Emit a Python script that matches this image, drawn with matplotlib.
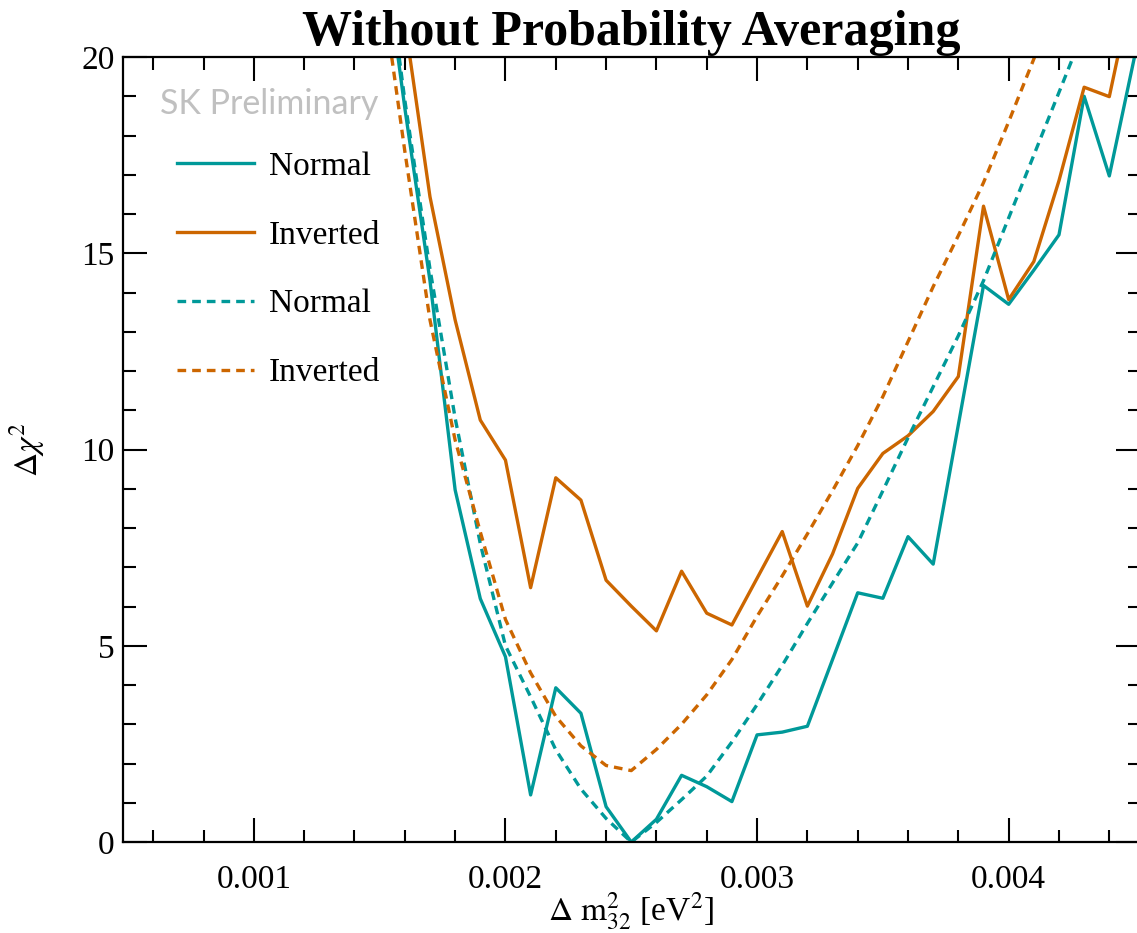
import matplotlib
matplotlib.use("Agg")
import matplotlib.pyplot as plt

plt.rcParams["font.family"] = ["Liberation Serif", "DejaVu Serif"]
plt.rcParams["mathtext.fontset"] = "stix"

# Delta m^2_32 grid [eV^2]
dm2 = [0.0015, 0.0016, 0.0017, 0.0018, 0.0019, 0.0020, 0.0021, 0.0022,
       0.0023, 0.0024, 0.0025, 0.0026, 0.0027, 0.0028, 0.0029, 0.0030,
       0.0031, 0.0032, 0.0033, 0.0034, 0.0035, 0.0036, 0.0037, 0.0038,
       0.0039, 0.0040, 0.0041, 0.0042, 0.0043, 0.0044, 0.0045]

# delta chi^2, solid = data fit, dashed = expectation
normal_fit = [23.5, 18.7, 14.3, 8.97, 6.2, 4.72, 1.2, 3.93, 3.28, 0.9, 0.0,
              0.58, 1.7, 1.41, 1.03, 2.73, 2.8, 2.95, 4.65, 6.35, 6.21, 7.78,
              7.08, 10.63, 14.18, 13.7, 14.57, 15.47, 19.0, 16.97, 20.0]
inverted_fit = [26.0, 20.9, 16.44, 13.3, 10.75, 9.73, 6.48, 9.28, 8.71, 6.67,
                6.01, 5.38, 6.9, 5.83, 5.53, 6.72, 7.91, 6.01, 7.34, 9.01, 9.9,
                10.35, 10.97, 11.86, 16.2, 13.82, 14.79, 16.85, 19.23, 18.99, 22.0]
normal_exp = [23.8, 18.9, 14.6, 10.8, 7.6, 5.0, 3.7, 2.35, 1.35, 0.6, 0.0,
              0.5, 1.08, 1.68, 2.55, 3.5, 4.5, 5.57, 6.6, 7.62, 8.95, 10.3,
              11.6, 12.9, 14.3, 15.9, 17.5, 19.1, 20.7, 22.4, 24.1]
inverted_exp = [22.2, 17.6, 13.3, 10.24, 7.9, 5.67, 4.31, 3.2, 2.45, 1.95,
                1.82, 2.36, 3.0, 3.75, 4.65, 5.75, 6.78, 7.85, 8.95, 10.1,
                11.35, 12.75, 14.15, 15.45, 16.8, 18.35, 19.95, 21.6, 23.3, 25.0, 26.7]

teal = "#009999"
orange = "#cc6600"

fig = plt.figure(figsize=(11.37, 9.33), dpi=100)
ax = fig.add_axes([0.1082, 0.0975, 0.894, 0.8414])

lw = 2.4
dash = (2.6, 1.8)
ax.plot(dm2, normal_fit, color=teal, lw=lw, label="Normal")
ax.plot(dm2, inverted_fit, color=orange, lw=lw, label="Inverted")
ax.plot(dm2, normal_exp, color=teal, lw=lw, dashes=dash, label="Normal")
ax.plot(dm2, inverted_exp, color=orange, lw=lw, dashes=dash, label="Inverted")

ax.set_xlim(0.00048, 0.00452)
ax.set_ylim(0, 20)
ax.set_xticks([0.001, 0.002, 0.003, 0.004])
ax.set_xticklabels(["0.001", "0.002", "0.003", "0.004"])
ax.set_xticks([0.0006 + 0.0002 * i for i in range(20)], minor=True)
ax.set_yticks([0, 5, 10, 15, 20])
ax.set_yticks(range(0, 21), minor=True)

ax.tick_params(which="both", direction="in", top=True, right=True, width=1.5,
               labelsize=24)
ax.tick_params(which="major", length=17)
ax.tick_params(which="minor", length=9)
ax.tick_params(axis="x", pad=16)
ax.tick_params(axis="y", pad=6)
for s in ax.spines.values():
    s.set_linewidth(1.6)

ax.set_xlabel(r"$\Delta\ \mathrm{m}^{2}_{32}$ [eV$^{2}$]", fontsize=24)
ax.xaxis.set_label_coords(0.5, -0.061)
ax.set_ylabel(r"$\Delta\chi^{2}$", fontsize=24)
ax.yaxis.set_label_coords(-0.075, 0.5)

ax.set_title("Without Probability Averaging", fontsize=36, fontweight="bold", pad=9)

ax.text(0.036, 0.94, "SK Preliminary", transform=ax.transAxes, fontsize=24.5,
        family="Lato", color="#c0c0c0", va="center", ha="left")

ax.legend(loc="upper left", bbox_to_anchor=(0.04, 0.897), frameon=False,
          fontsize=24, handlelength=2.3, handletextpad=0.45, labelspacing=1.15,
          borderaxespad=0)

fig.savefig("out.png", dpi=100)
